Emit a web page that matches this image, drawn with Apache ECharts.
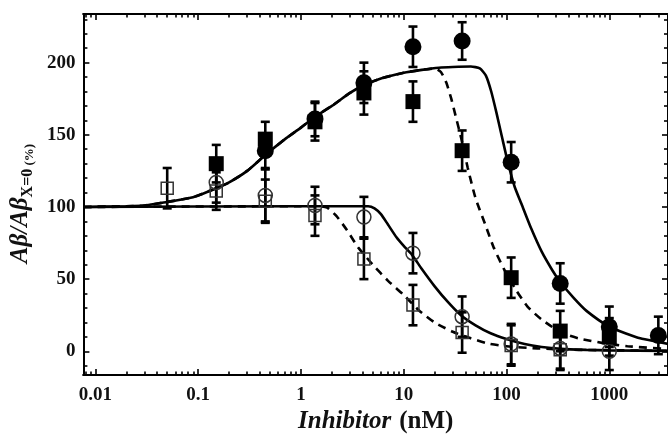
<!DOCTYPE html>
<html>
<head>
<meta charset="utf-8">
<script src="https://cdn.jsdelivr.net/npm/echarts@6/dist/echarts.min.js"></script>
<style>
html,body{margin:0;padding:0;background:#fff;}
#chart{width:668px;height:439px;}
</style>
</head>
<body>
<div id="chart"></div>
<script>
// ---- data ----
const xMajorTicks = [0.01, 0.1, 1, 10, 100, 1000];
const xMinorTicks = [0.008, 0.009,
  0.02, 0.03, 0.04, 0.05, 0.06, 0.07, 0.08, 0.09,
  0.2, 0.3, 0.4, 0.5, 0.6, 0.7, 0.8, 0.9,
  2, 3, 4, 5, 6, 7, 8, 9,
  20, 30, 40, 50, 60, 70, 80, 90,
  200, 300, 400, 500, 600, 700, 800, 900,
  2000, 3000];
const yMajorTicks = [0, 50, 100, 150, 200];
const yMinorTicks = [-10, 10, 20, 30, 40, 60, 70, 80, 90, 110, 120, 130, 140, 160, 170, 180, 190, 210, 220, 230];

// filled squares (dashed fit)
const fsX = [0.15, 0.45, 1.37, 4.1, 12.3, 37, 111, 333, 1000];
const fsY = [130, 147, 159, 179, 173, 139, 51, 14, 10];
const fsE = [13, 12, 13, 15, 14, 14, 14, 14, 13];
// filled circles (solid fit)
const fcX = [0.45, 1.37, 4.1, 12.3, 37, 111, 333, 1000, 3000];
const fcY = [139, 161, 186, 211, 215, 131, 47, 17, 11];
const fcE = [12, 12, 14, 14, 13, 14, 14, 14, 13];
// open circles (solid fit)
const ocX = [0.15, 0.45, 1.37, 4.1, 12.3, 37, 111, 333, 1000];
const ocY = [117, 108, 101, 93, 68, 24, 5, 2, 0];
const ocE = [14, 18, 13, 14, 14, 14, 14, 14, 13];
// open squares (dashed fit)
const osX = [0.05, 0.15, 0.45, 1.37, 4.1, 12.3, 37, 111, 333];
const osY = [113, 111, 104, 94, 64, 32, 13, 4, 1];
const osE = [14, 13, 15, 14, 14, 14, 14, 14, 14];

// fitted curves
const upSolidX = [0.0077, 0.02, 0.03, 0.05, 0.08, 0.1, 0.15, 0.2, 0.3, 0.45, 0.7, 1, 1.4, 2, 3, 4, 6, 10, 15, 22, 30, 45, 55, 63, 71, 80, 90, 103, 120, 140, 174, 220, 280, 333, 450, 600, 1000, 1500, 2000, 3000, 3800];
const upSolidY = [100, 100.5, 101, 103.5, 106, 108, 113, 117, 125, 136, 147, 155, 163, 170, 179, 184, 189, 193, 195, 196.5, 197, 197.3, 196, 191, 180, 165, 149, 131, 114, 102, 85, 69, 56, 48, 37, 28, 17, 12, 9, 6.5, 5];
const upDashX = [0.0077, 0.02, 0.03, 0.05, 0.08, 0.1, 0.15, 0.2, 0.3, 0.45, 0.7, 1, 1.4, 2, 3, 4, 6, 10, 15, 20, 23, 26, 29, 32, 37, 42, 50, 62, 75, 96, 125, 160, 220, 340, 500, 900, 1500, 3800];
const upDashY = [100, 100.5, 101, 103.5, 106, 108, 113, 117, 125, 136, 147, 155, 163, 170, 179, 184, 189, 193, 195, 196, 193.5, 186, 175, 163, 145, 127, 106, 88, 72, 56, 42, 31, 22, 13, 9, 5.5, 3.5, 1.5];
const loSolidX = [0.0077, 1, 4.5, 5.2, 6, 7, 8.5, 10, 12, 15, 20, 27, 36, 50, 70, 100, 150, 220, 340, 600, 1000, 3800];
const loSolidY = [100, 100.5, 100.5, 99, 95, 88, 79, 73, 67, 57, 45, 34, 25, 18, 12.5, 8.5, 5, 3, 1.7, 1, 0.6, 0.3];
const loDashX = [0.0077, 1, 1.5, 1.8, 2.2, 2.8, 3.6, 5, 7, 10, 14, 20, 30, 45, 65, 100, 200, 500, 3800];
const loDashY = [100, 100.5, 100.5, 99.5, 94, 84, 72, 60, 49, 39, 28.5, 20, 13.5, 9, 5.5, 3.5, 2, 1, 0.3];

const xTitle = '{i|Inhibitor}{n|(nM)}';
const yTitle = '{i|Aβ/Aβ}{s|X=0}{p| (%)}';

// ---- build ----
const FONT = 'Liberation Serif';
const zip2 = (xs, ys) => xs.map((x, i) => [x, ys[i]]);
const zip3 = (xs, ys, es) => xs.map((x, i) => [x, ys[i], es[i]]);

function errRender(params, api) {
  const x = api.value(0), y = api.value(1), e = api.value(2);
  const t = api.coord([x, y + e]);
  const b = api.coord([x, y - e]);
  const hw = 4.5;
  const st = {stroke: '#000', lineWidth: 2.6};
  return {type: 'group', children: [
    {type: 'line', shape: {x1: t[0], y1: t[1], x2: b[0], y2: b[1]}, style: st},
    {type: 'line', shape: {x1: t[0] - hw, y1: t[1], x2: t[0] + hw, y2: t[1]}, style: st},
    {type: 'line', shape: {x1: b[0] - hw, y1: b[1], x2: b[0] + hw, y2: b[1]}, style: st}
  ]};
}

const XMIN = 0.00765, XMAX = 3725;
function xAx(pos, ticks, len, labels) {
  return {
    type: 'log', logBase: 10, min: XMIN, max: XMAX, position: pos, gridIndex: 0,
    axisLine: {show: true, onZero: false, lineStyle: {color: '#000', width: 2}},
    axisTick: {show: true, inside: true, length: len, customValues: ticks, lineStyle: {color: '#000', width: 1.6}},
    axisLabel: labels ? {show: true, customValues: ticks, margin: 10, fontFamily: FONT, fontWeight: 'bold', fontSize: 19, color: '#111', formatter: v => String(v)} : {show: false},
    splitLine: {show: false}, minorTick: {show: false}
  };
}
function yAx(pos, ticks, len, labels) {
  return {
    type: 'value', min: -16.5, max: 233.7, position: pos, gridIndex: 0,
    axisLine: {show: true, onZero: false, lineStyle: {color: '#000', width: 2}},
    axisTick: {show: true, inside: true, length: len, customValues: ticks, lineStyle: {color: '#000', width: 1.6}},
    axisLabel: labels ? {show: true, customValues: ticks, margin: 8, fontFamily: FONT, fontWeight: 'bold', fontSize: 19, color: '#111'} : {show: false},
    splitLine: {show: false}, minorTick: {show: false}
  };
}

const xAxes = [xAx('bottom', xMajorTicks, 6, true), xAx('bottom', xMinorTicks, 3.5, false), xAx('top', xMajorTicks, 6, false), xAx('top', xMinorTicks, 3.5, false)];
xAxes[0].name = xTitle;
xAxes[0].nameLocation = 'middle';
xAxes[0].nameGap = 33;
xAxes[0].nameTextStyle = {rich: {
  i: {fontFamily: FONT, fontStyle: 'italic', fontWeight: 'bold', fontSize: 25, color: '#111', padding: [0, 8, 0, 0]},
  n: {fontFamily: FONT, fontWeight: 'bold', fontSize: 25, color: '#111'}
}};
const yAxes = [yAx('left', yMajorTicks, 6, true), yAx('left', yMinorTicks, 4, false), yAx('right', yMajorTicks, 6, false), yAx('right', yMinorTicks, 4, false)];
yAxes[0].name = yTitle;
yAxes[0].nameLocation = 'middle';
yAxes[0].nameGap = 47;
yAxes[0].nameTextStyle = {padding: [0, 18, 0, 0], rich: {
  i: {fontFamily: FONT, fontStyle: 'italic', fontWeight: 'bold', fontSize: 25, lineHeight: 28, verticalAlign: 'top', color: '#111'},
  s: {fontFamily: FONT, fontWeight: 'bold', fontSize: 16, lineHeight: 16, verticalAlign: 'bottom', color: '#111'},
  p: {fontFamily: FONT, fontWeight: 'bold', fontSize: 13, lineHeight: 22, verticalAlign: 'bottom', color: '#111'}
}};

function curve(xs, ys, dashed) {
  return {type: 'line', xAxisIndex: 0, yAxisIndex: 0, data: zip2(xs, ys), showSymbol: false, symbol: 'none',
    smooth: 0.2, silent: true, z: 3,
    lineStyle: {color: '#000', width: 2.6, type: dashed ? [8, 6] : 'solid'}};
}
function errs(xs, ys, es) {
  return {type: 'custom', xAxisIndex: 0, yAxisIndex: 0, data: zip3(xs, ys, es), renderItem: errRender,
    encode: {x: 0, y: 1}, silent: true, z: 2};
}
function marks(xs, ys, symbol, size, filled) {
  return {type: 'scatter', xAxisIndex: 0, yAxisIndex: 0, data: zip2(xs, ys), symbol: symbol, symbolSize: size, z: 4, silent: true,
    itemStyle: filled ? {color: '#000', opacity: 1} : {color: 'rgba(0,0,0,0)', borderColor: '#333', borderWidth: 1.5, opacity: 1}};
}

const chart = echarts.init(document.getElementById('chart'), null, {renderer: 'canvas'});
chart.setOption({
  animation: false,
  backgroundColor: '#fff',
  grid: {left: 83, top: 14, right: -3, bottom: 61, containLabel: false},
  xAxis: xAxes,
  yAxis: yAxes,
  series: [
    errs(osX, osY, osE), errs(ocX, ocY, ocE), errs(fsX, fsY, fsE), errs(fcX, fcY, fcE),
    curve(upSolidX, upSolidY, false), curve(upDashX, upDashY, true),
    curve(loSolidX, loSolidY, false), curve(loDashX, loDashY, true),
    marks(osX, osY, 'rect', 12, false), marks(ocX, ocY, 'circle', 14, false),
    marks(fsX, fsY, 'rect', 15, true), marks(fcX, fcY, 'circle', 17, true)
  ]
});
</script>
</body>
</html>
